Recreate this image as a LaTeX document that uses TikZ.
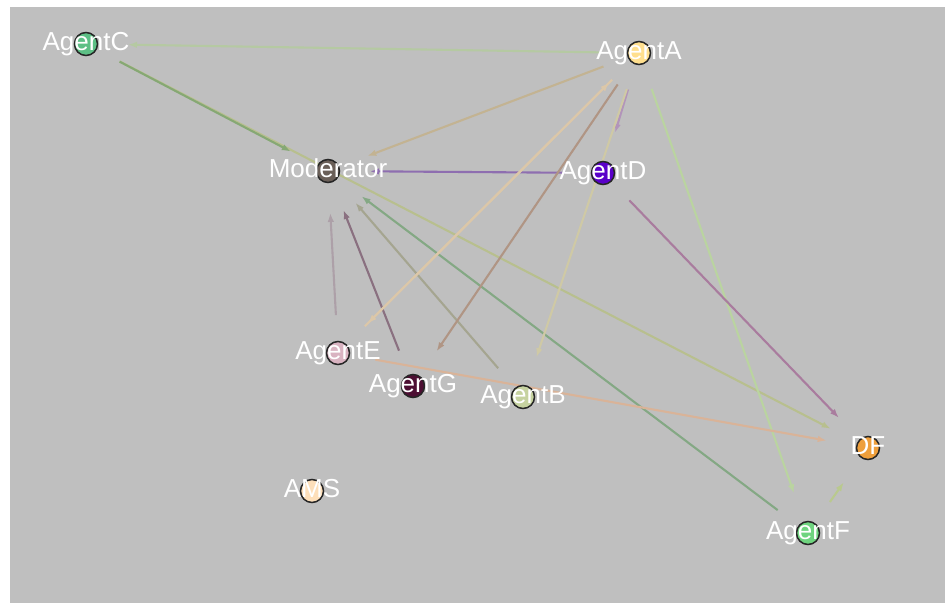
\documentclass[tikz,border=0pt]{standalone}
\usepackage{fontspec}
\setmainfont{Liberation Sans}
\usetikzlibrary{arrows.meta,calc}
\definecolor{bgc}{HTML}{BFBFBF}
\definecolor{nC}{HTML}{5DBF85}
\definecolor{nA}{HTML}{FFDF8E}
\definecolor{nM}{HTML}{6A5F58}
\definecolor{nD}{HTML}{5A00C8}
\definecolor{nE}{HTML}{D9B3C1}
\definecolor{nG}{HTML}{4D0F33}
\definecolor{nB}{HTML}{C6D2A0}
\definecolor{nDF}{HTML}{EE9F3C}
\definecolor{nAMS}{HTML}{FDDFBA}
\definecolor{nF}{HTML}{6FD47F}
\definecolor{cAC}{HTML}{B5C9A2}
\definecolor{cCM}{HTML}{86A874}
\definecolor{cCDF}{HTML}{B8BF8E}
\definecolor{cAM}{HTML}{C3B392}
\definecolor{cDM}{HTML}{8E6EB0}
\definecolor{cEM}{HTML}{ADA0A8}
\definecolor{cGM}{HTML}{8A7080}
\definecolor{cBM}{HTML}{A5A590}
\definecolor{cFM}{HTML}{84A884}
\definecolor{cAE}{HTML}{DCC7A8}
\definecolor{cAG}{HTML}{B09584}
\definecolor{cAD}{HTML}{B294BA}
\definecolor{cAB}{HTML}{CFC9A5}
\definecolor{cAF}{HTML}{BAD4A0}
\definecolor{cDDF}{HTML}{A97C9E}
\definecolor{cEDF}{HTML}{D9B398}
\definecolor{cFDF}{HTML}{B9C98E}
\begin{document}
\begin{tikzpicture}[x=1pt,y=-1pt,
  agent/.style={circle,minimum size=23pt,inner sep=0pt,draw=black!85,line width=1.5pt},
  lbl/.style={anchor=base,text=white,inner sep=0pt,font=\fontsize{26}{30}\selectfont},
  edge/.style={line width=2.1pt,-{Latex[length=9pt,width=6.5pt]},shorten <=38pt,shorten >=42pt}]
\useasboundingbox (0,0) rectangle (945,603);
\fill[bgc] (10,7) rectangle (945,603);
% node positions
\coordinate (pC) at (86,44);
\coordinate (pA) at (639,53);
\coordinate (pM) at (328,171);
\coordinate (pD) at (603,173);
\coordinate (pE) at (338,353);
\coordinate (pG) at (413,386);
\coordinate (pB) at (523,397);
\coordinate (pDF) at (868,448);
\coordinate (pAMS) at (312,491);
\coordinate (pF) at (808,533);
% edges
\draw[edge,cAC] (pA) -- (pC);
\draw[edge,cCDF] (pC) -- (pDF);
\draw[edge,cCM] (pC) -- (pM);
\draw[edge,cAM] (pA) -- (pM);
\draw[edge,cDM] (pD) -- (pM);
\draw[edge,cEM] (pE) -- (pM);
\draw[edge,cGM] (pG) -- (pM);
\draw[edge,cBM] (pB) -- (pM);
\draw[edge,cFM] (pF) -- (pM);
\draw[edge,cAE] (pA) -- (pE);
\draw[edge,cAE] (pE) -- (pA);
\draw[edge,cAG] (pA) -- (pG);
\draw[edge,cAD] (pA) -- (pD);
\draw[edge,cAB] (pA) -- (pB);
\draw[edge,cAF] (pA) -- (pF);
\draw[edge,cDDF] (pD) -- (pDF);
\draw[edge,cEDF] (pE) -- (pDF);
\draw[edge,cFDF] (pF) -- (pDF);
% circles
\node[agent,fill=nC] (C) at (pC) {};
\node[agent,fill=nA] (A) at (pA) {};
\node[agent,fill=nM] (M) at (pM) {};
\node[agent,fill=nD] (D) at (pD) {};
\node[agent,fill=nE] (E) at (pE) {};
\node[agent,fill=nG] (G) at (pG) {};
\node[agent,fill=nB] (B) at (pB) {};
\node[agent,fill=nDF] (DF) at (pDF) {};
\node[agent,fill=nAMS] (AMS) at (pAMS) {};
\node[agent,fill=nF] (F) at (pF) {};
% labels
\node[lbl] (tC) at ($(C.center)+(0,6)$) {AgentC};
\node[lbl] (tA) at ($(A.center)+(0,6)$) {AgentA};
\node[lbl] (tM) at ($(M.center)+(0,6)$) {Moderator};
\node[lbl] (tD) at ($(D.center)+(0,6)$) {AgentD};
\node[lbl] (tE) at ($(E.center)+(0,6)$) {AgentE};
\node[lbl] (tG) at ($(G.center)+(0,6)$) {AgentG};
\node[lbl] (tB) at ($(B.center)+(0,6)$) {AgentB};
\node[lbl] (tDF) at ($(DF.center)+(0,6)$) {DF};
\node[lbl] (tAMS) at ($(AMS.center)+(0,6)$) {AMS};
\node[lbl] (tF) at ($(F.center)+(0,6)$) {AgentF};
\end{tikzpicture}
\end{document}
